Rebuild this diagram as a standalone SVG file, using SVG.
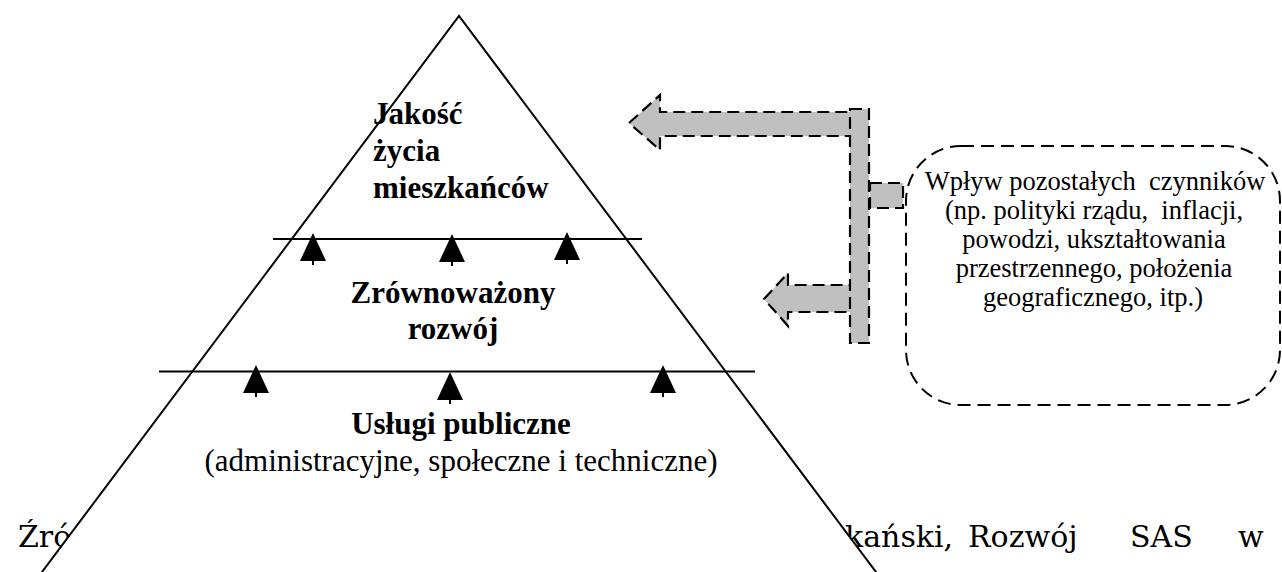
<svg xmlns="http://www.w3.org/2000/svg" width="1282" height="572" viewBox="0 0 1282 572" xml:space="preserve">
<style>
  .t { font-family: "Liberation Serif", "Times New Roman", serif; fill: #000; white-space: pre; }
  .b { font-weight: bold; font-size: 31px; }
  .r { font-size: 31px; }
  .p { font-family: "DejaVu Serif", serif; font-size: 30px; fill: #000; }
  .s { font-size: 26.5px; }
  .grey { fill: #c0c0c0; stroke: #000; stroke-width: 2.2; stroke-dasharray: 12 6; }
  .line { stroke: #000; stroke-width: 2; fill: none; }
</style>
<defs>
  <g id="up">
    <polygon points="0,0 -13,28 13,28" fill="#000"/>
    <rect x="-1" y="27" width="2" height="5" fill="#000"/>
  </g>
</defs>
<rect width="1282" height="572" fill="#fff"/>
<g id="paragraph">
  <text class="p" x="18" y="547">Źró</text>
  <text class="p" y="547"><tspan x="845">kański,</tspan><tspan x="968">Rozwój</tspan><tspan x="1130">SAS</tspan><tspan x="1238">w</tspan></text>
</g>
<g id="pyramid">
  <polygon points="459,16 891,592 27,592" fill="#fff"/>
  <polyline class="line" points="27,592 459,16 891,592"/>
  <line class="line" x1="273" y1="239" x2="642" y2="239"/>
  <line class="line" x1="159" y1="371.5" x2="755" y2="371.5"/>
</g>
<g id="connectors">
  <use href="#up" x="313" y="233"/>
  <use href="#up" x="452" y="234"/>
  <use href="#up" x="567" y="232"/>
  <use href="#up" x="256" y="365"/>
  <use href="#up" x="450" y="372"/>
  <use href="#up" x="663" y="365"/>
</g>
<g id="level1">
  <text class="t b" x="373" y="124">Jakość</text>
  <text class="t b" x="373" y="161">życia</text>
  <text class="t b" x="373" y="198">mieszkańców</text>
</g>
<g id="level2">
  <text class="t b" x="453" y="303" text-anchor="middle">Zrównoważony</text>
  <text class="t b" x="453" y="339" text-anchor="middle">rozwój</text>
</g>
<g id="level3">
  <text class="t b" x="461" y="434" text-anchor="middle">Usługi publiczne</text>
  <text class="t r" x="461" y="471" text-anchor="middle">(administracyjne, społeczne i techniczne)</text>
</g>
<g id="influence-arrows">
  <polygon class="grey" points="629,123 660,95 660,112 852,112 852,136 660,136 660,150"/>
  <polygon class="grey" points="764,299 788,273 788,285 852,285 852,312 788,312 788,326"/>
  <rect class="grey" x="850" y="109" width="19" height="234"/>
  <rect class="grey" x="870" y="183" width="33" height="25"/>
</g>
<g id="factors">
  <rect x="906" y="146" width="374" height="259" rx="55" ry="55" fill="none" stroke="#000" stroke-width="2" stroke-dasharray="13 7"/>
  <text class="t s" text-anchor="middle"><tspan x="1095" y="190">Wpływ pozostałych  czynników</tspan><tspan x="1094" y="219">(np. polityki rządu,  inflacji,</tspan><tspan x="1094" y="248">powodzi, ukształtowania</tspan><tspan x="1094" y="277">przestrzennego, położenia</tspan><tspan x="1093" y="306">geograficznego, itp.)</tspan></text>
</g>
</svg>
